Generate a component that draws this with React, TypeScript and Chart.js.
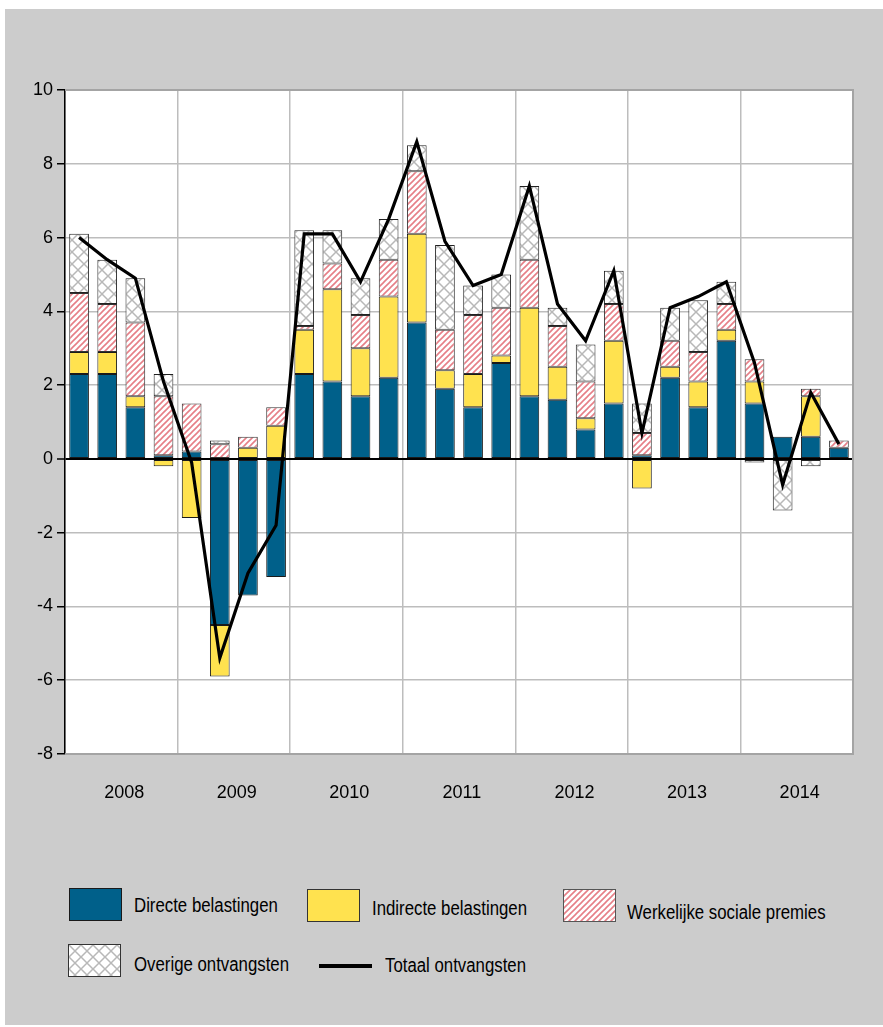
import React, { useEffect, useMemo, useRef } from "react";
import { Chart, registerables } from "chart.js";

Chart.register(...registerables);

const years = ["2008", "2009", "2010", "2011", "2012", "2013", "2014"];
const quarters = years.flatMap((y) => ["K1", "K2", "K3", "K4"].map((q) => `${y} ${q}`));

const directe = [2.3, 2.3, 1.4, 0.1, 0.2, -4.5, -3.7, -3.2, 2.3, 2.1, 1.7, 2.2, 3.7, 1.9, 1.4, 2.6, 1.7, 1.6, 0.8, 1.5, 0.1, 2.2, 1.4, 3.2, 1.5, 0.6, 0.6, 0.3];
const indirecte = [0.6, 0.6, 0.3, -0.2, -1.6, -1.4, 0.3, 0.9, 1.2, 2.5, 1.3, 2.2, 2.4, 0.5, 0.9, 0.2, 2.4, 0.9, 0.3, 1.7, -0.8, 0.3, 0.7, 0.3, 0.6, null, 1.1, null];
const sociale = [1.6, 1.3, 2.0, 1.6, 1.3, 0.4, 0.3, 0.5, 0.1, 0.7, 0.9, 1.0, 1.7, 1.1, 1.6, 1.3, 1.3, 1.1, 1.0, 1.0, 0.6, 0.7, 0.8, 0.7, 0.6, null, 0.2, 0.2];
const overige = [1.6, 1.2, 1.2, 0.6, null, 0.1, null, null, 2.6, 0.9, 1.0, 1.1, 0.7, 2.3, 0.8, 0.9, 2.0, 0.5, 1.0, 0.9, 0.8, 0.9, 1.4, 0.6, -0.1, -1.4, -0.2, null];
const totaal = [6.0, 5.4, 4.9, 2.1, -0.1, -5.4, -3.1, -1.8, 6.1, 6.1, 4.8, 6.5, 8.6, 5.9, 4.7, 5.0, 7.4, 4.2, 3.2, 5.1, 0.7, 4.1, 4.4, 4.8, 2.6, -0.7, 1.8, 0.4];

const seriesLabels = ["Directe belastingen", "Indirecte belastingen", "Werkelijke sociale premies", "Overige ontvangsten", "Totaal ontvangsten"];

const yMin = -8;
const yMax = 10;
const yStep = 2;

const FONT = "'Liberation Sans', Arial, sans-serif";
const BLUE = "#00608a";
const YELLOW = "#ffe24f";

function makeHatch(): HTMLCanvasElement {
  const s = 6;
  const c = document.createElement("canvas");
  c.width = s;
  c.height = s;
  const g = c.getContext("2d")!;
  g.fillStyle = "#ffffff";
  g.fillRect(0, 0, s, s);
  g.strokeStyle = "#e67f87";
  g.lineWidth = 1.6;
  g.beginPath();
  g.moveTo(-1, s + 1);
  g.lineTo(s + 1, -1);
  g.moveTo(-1, 1);
  g.lineTo(1, -1);
  g.moveTo(s - 1, s + 1);
  g.lineTo(s + 1, s - 1);
  g.stroke();
  return c;
}

function makeCross(): HTMLCanvasElement {
  const s = 12;
  const c = document.createElement("canvas");
  c.width = s;
  c.height = s;
  const g = c.getContext("2d")!;
  g.fillStyle = "#ffffff";
  g.fillRect(0, 0, s, s);
  g.strokeStyle = "#b8b8b8";
  g.lineWidth = 1.5;
  g.beginPath();
  g.moveTo(0, 0);
  g.lineTo(s, s);
  g.moveTo(0, s);
  g.lineTo(s, 0);
  g.stroke();
  return c;
}

const framePlugin = {
  id: "frame",
  beforeDraw(chart: any) {
    const { ctx, chartArea } = chart;
    ctx.save();
    ctx.fillStyle = "#ffffff";
    ctx.fillRect(chartArea.left, chartArea.top, chartArea.right - chartArea.left, chartArea.bottom - chartArea.top);
    ctx.restore();
  },
  beforeDatasetsDraw(chart: any) {
    const { ctx, chartArea } = chart;
    const { left, right, top, bottom } = chartArea;
    ctx.save();
    ctx.strokeStyle = "#a4a4a4";
    ctx.lineWidth = 2;
    ctx.beginPath();
    ctx.moveTo(left, top);
    ctx.lineTo(right, top);
    ctx.lineTo(right, bottom);
    ctx.lineTo(left, bottom);
    ctx.stroke();
    ctx.restore();
  },
};

export default function App() {
  const ref = useRef<HTMLCanvasElement>(null);
  const hatch = useMemo(makeHatch, []);
  const cross = useMemo(makeCross, []);

  useEffect(() => {
    const canvas = ref.current!;
    const ctx = canvas.getContext("2d")!;
    const hatchP = ctx.createPattern(hatch, "repeat");
    const crossP = ctx.createPattern(cross, "repeat");
    const barCommon = {
      type: "bar" as const,
      borderColor: "#1a1a1a",
      borderWidth: 1,
      borderSkipped: false,
      barPercentage: 0.7,
      categoryPercentage: 1.0,
      stack: "s",
      order: 1,
    };
    const chart = new Chart(ctx, {
      type: "bar",
      data: {
        labels: quarters,
        datasets: [
          { ...barCommon, label: seriesLabels[0], data: directe, backgroundColor: BLUE },
          { ...barCommon, label: seriesLabels[1], data: indirecte, backgroundColor: YELLOW },
          { ...barCommon, label: seriesLabels[2], data: sociale, backgroundColor: hatchP, borderColor: "#333" },
          { ...barCommon, label: seriesLabels[3], data: overige, backgroundColor: crossP, borderColor: "#222" },
          {
            type: "line" as const,
            label: seriesLabels[4],
            data: totaal,
            borderColor: "#000000",
            borderWidth: 3.2,
            pointRadius: 0,
            tension: 0,
            fill: false,
            stack: "line",
            order: 0,
          } as any,
        ],
      },
      options: {
        responsive: false,
        animation: false,
        events: [],
        layout: { padding: { left: 0, right: 30, top: 90, bottom: 16 } },
        plugins: { legend: { display: false }, tooltip: { enabled: false } },
        scales: {
          x: {
            stacked: true,
            offset: true,
            ticks: {
              autoSkip: false,
              maxRotation: 0,
              minRotation: 0,
              padding: 28,
              labelOffset: 17,
              color: "#000",
              font: { size: 18, family: FONT },
              callback: (_v: any, i: number) => (i % 4 === 1 ? years[Math.floor(i / 4)] : ""),
            },
            grid: {
              offset: true,
              drawTicks: false,
              lineWidth: 1.5,
              color: (c: any) => (c.index % 4 === 0 ? "#bdbdbd" : "rgba(0,0,0,0)"),
            },
            border: { display: false },
            afterFit: (s: any) => {
              s.height = 60;
            },
          } as any,
          y: {
            stacked: true,
            min: yMin,
            max: yMax,
            ticks: {
              stepSize: yStep,
              padding: 4,
              color: "#000",
              font: { size: 18, family: FONT },
            },
            grid: {
              color: (c: any) => (c.tick && c.tick.value === 0 ? "#000000" : "#bdbdbd"),
              lineWidth: (c: any) => (c.tick && c.tick.value === 0 ? 2 : 1.5),
              tickColor: "#000000",
              tickWidth: 1.5,
              tickLength: 8,
            },
            border: { color: "#000000", width: 1.5 },
            afterFit: (s: any) => {
              s.width = 65;
            },
          } as any,
        },
      },
      plugins: [framePlugin],
    } as any);
    return () => chart.destroy();
  }, [hatch, cross]);

  const textStyle: React.CSSProperties = {
    position: "absolute",
    fontFamily: FONT,
    fontSize: 20,
    color: "#000",
    lineHeight: "24px",
    whiteSpace: "nowrap",
    transform: "scaleX(0.84)",
    transformOrigin: "left center",
  };
  const sw = (left: number, top: number, bg: string, border: string): React.CSSProperties => ({
    position: "absolute",
    left,
    top,
    width: 53,
    height: 33,
    boxSizing: "border-box",
    border: `1px solid ${border}`,
    background: bg,
  });

  return (
    <div style={{ position: "absolute", left: 0, top: 0, width: 883, height: 1027 }}>
      <div style={{ position: "absolute", left: 5, top: 9, width: 878, height: 1016, background: "#cccccc" }} />
      <canvas ref={ref} width={883} height={830} style={{ position: "absolute", left: 0, top: 0, width: 883, height: 830 }} />
      <div style={sw(69, 888, BLUE, "#1a1a1a")} />
      <div style={{ ...textStyle, left: 134, top: 893 }}>{seriesLabels[0]}</div>
      <div style={sw(307, 889, YELLOW, "#333")} />
      <div style={{ ...textStyle, left: 372, top: 896 }}>{seriesLabels[1]}</div>
      <div style={sw(563, 889, `url(${hatch.toDataURL()})`, "#555")} />
      <div style={{ ...textStyle, left: 627, top: 900 }}>{seriesLabels[2]}</div>
      <div style={sw(68, 944, `url(${cross.toDataURL()})`, "#333")} />
      <div style={{ ...textStyle, left: 134, top: 952 }}>{seriesLabels[3]}</div>
      <div style={{ position: "absolute", left: 319, top: 964, width: 53, height: 4, background: "#000" }} />
      <div style={{ ...textStyle, left: 385, top: 953 }}>{seriesLabels[4]}</div>
    </div>
  );
}
